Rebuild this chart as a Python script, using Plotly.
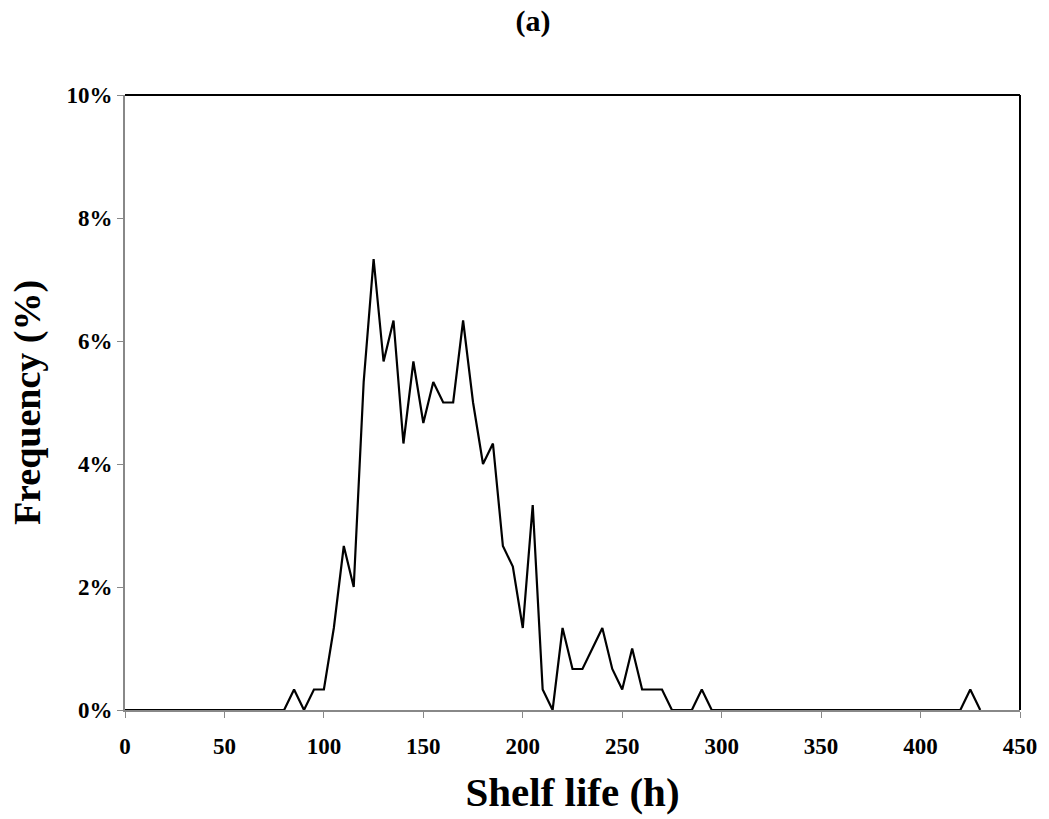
import plotly.graph_objects as go

shelf_life_h = list(range(0, 435, 5))
counts = {85: 1, 95: 1, 100: 1, 105: 4, 110: 8, 115: 6, 120: 16, 125: 22, 130: 17,
          135: 19, 140: 13, 145: 17, 150: 14, 155: 16, 160: 15, 165: 15, 170: 19,
          175: 15, 180: 12, 185: 13, 190: 8, 195: 7, 200: 4, 205: 10, 210: 1,
          220: 4, 225: 2, 230: 2, 235: 3, 240: 4, 245: 2, 250: 1, 255: 3, 260: 1,
          265: 1, 270: 1, 290: 1, 425: 1}
total_n = 300
frequency = [counts.get(h, 0) / total_n for h in shelf_life_h]

y_ticks = [0, 0.02, 0.04, 0.06, 0.08, 0.10]
y_tick_labels = ["0%", "2%", "4%", "6%", "8%", "10%"]
x_ticks = list(range(0, 451, 50))

font_family = "Liberation Serif"

fig = go.Figure()
fig.add_trace(go.Scatter(x=shelf_life_h, y=frequency, mode="lines",
                         line=dict(color="black", width=2.2), showlegend=False,
                         cliponaxis=False))

fig.update_layout(
    width=1049, height=819,
    margin=dict(l=125, r=24, t=95, b=109),
    paper_bgcolor="white", plot_bgcolor="white",
    font=dict(family=font_family, color="black"),
    title=dict(text="<b>(a)</b>", x=0.508, xanchor="center", y=0.975, yanchor="middle",
               font=dict(size=30, family=font_family, color="black")),
    xaxis=dict(range=[0, 450], tickvals=x_ticks, ticks="outside", ticklen=6,
               tickcolor="#888888", showline=True, linecolor="#888888", linewidth=2,
               showgrid=False, zeroline=False, ticklabelstandoff=8,
               tickfont=dict(size=23, family=font_family, color="black", weight="bold"),
               title=dict(text="<b>Shelf life (h)</b>", standoff=20,
                          font=dict(size=41, family=font_family, color="black"))),
    yaxis=dict(range=[0, 0.10], tickvals=y_ticks, ticktext=y_tick_labels,
               ticks="outside", ticklen=6, tickcolor="#888888",
               showline=True, linecolor="#888888", linewidth=2,
               showgrid=False, zeroline=False,
               tickfont=dict(size=23, family=font_family, color="black", weight="bold"),
               title=dict(text="<b>Frequency (%)</b>", standoff=14,
                          font=dict(size=38, family=font_family, color="black"))),
)

# top and right frame lines (black)
fig.add_shape(type="line", xref="paper", yref="paper", x0=0, x1=1, y0=1, y1=1,
              line=dict(color="black", width=2))
fig.add_shape(type="line", xref="paper", yref="paper", x0=1, x1=1, y0=0, y1=1,
              line=dict(color="black", width=2))

fig.write_html("out.html")
